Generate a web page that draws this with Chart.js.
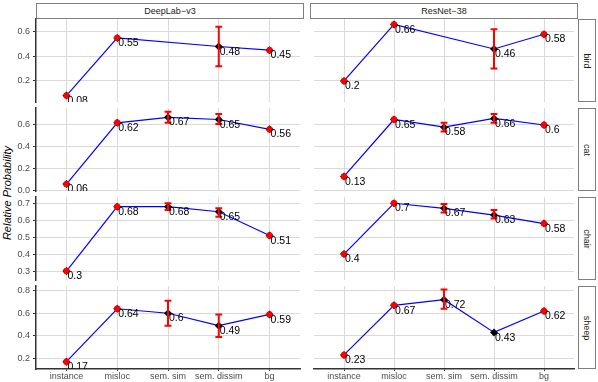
<!DOCTYPE html>
<html>
<head>
<meta charset="utf-8">
<script src="https://cdn.jsdelivr.net/npm/chart.js@4.4.1/dist/chart.umd.min.js"></script>
<style>
  body { margin: 0; width: 598px; height: 382px; position: relative; overflow: hidden; background: #fff;
         font-family: 'Liberation Sans', Arial, sans-serif; }
  canvas { position: absolute; }
  .strip { position: absolute; box-sizing: border-box; border: 1px solid #7f7f7f; background: #fff;
           color: #1a1a1a; font-size: 9px; display: flex; align-items: center; justify-content: center; }
  .strip span.v { transform: rotate(90deg); white-space: nowrap; }
  #ytitle { position: absolute; width: 200px; left: -93px; top: 187px; text-align: center; font-size: 11px;
            font-style: italic; color: #000; transform: rotate(-90deg); white-space: nowrap; }
</style>
</head>
<body>
<div id="ytitle">Relative Probability</div>
<script>
// categories / facets
const categories = ['instance', 'misloc', 'sem. sim', 'sem. dissim', 'bg'];
const models = ['DeepLab−v3', 'ResNet−38'];
const classes = ['bird', 'cat', 'chair', 'sheep'];

// mean values (null = no value)
const deeplabBird  = [0.08, 0.55, null, 0.48, 0.45];
const resnetBird   = [0.2, 0.66, null, 0.46, 0.58];
const deeplabCat   = [0.06, 0.62, 0.67, 0.65, 0.56];
const resnetCat    = [0.13, 0.65, 0.58, 0.66, 0.6];
const deeplabChair = [0.3, 0.68, 0.68, 0.65, 0.51];
const resnetChair  = [0.4, 0.7, 0.67, 0.63, 0.58];
const deeplabSheep = [0.17, 0.64, 0.6, 0.49, 0.59];
const resnetSheep  = [0.23, 0.67, 0.72, 0.43, 0.62];

// error bars, lower and upper ends
const deeplabBirdLo  = [0.08, 0.55, null, 0.32, 0.45];
const deeplabBirdHi  = [0.08, 0.55, null, 0.64, 0.45];
const resnetBirdLo   = [0.2, 0.66, null, 0.30, 0.58];
const resnetBirdHi   = [0.2, 0.66, null, 0.62, 0.58];
const deeplabCatLo   = [0.06, 0.62, 0.62, 0.61, 0.56];
const deeplabCatHi   = [0.06, 0.62, 0.72, 0.70, 0.56];
const resnetCatLo    = [0.13, 0.65, 0.54, 0.62, 0.6];
const resnetCatHi    = [0.13, 0.65, 0.62, 0.70, 0.6];
const deeplabChairLo = [0.3, 0.68, 0.66, 0.62, 0.51];
const deeplabChairHi = [0.3, 0.68, 0.70, 0.67, 0.51];
const resnetChairLo  = [0.4, 0.7, 0.645, 0.61, 0.58];
const resnetChairHi  = [0.4, 0.7, 0.695, 0.66, 0.58];
const deeplabSheepLo = [0.17, 0.64, 0.49, 0.39, 0.59];
const deeplabSheepHi = [0.17, 0.64, 0.71, 0.59, 0.59];
const resnetSheepLo  = [0.23, 0.67, 0.64, null, 0.62];
const resnetSheepHi  = [0.23, 0.67, 0.81, null, 0.62];

// y axis per row
const rowTicks = [[0.2, 0.4, 0.6], [0.0, 0.2, 0.4, 0.6], [0.3, 0.4, 0.5, 0.6, 0.7], [0.2, 0.4, 0.6, 0.8]];
const rowMin = [0.028, -0.003, 0.247, 0.105];
const rowMax = [0.704, 0.755, 0.737, 0.842];

const means = [[deeplabBird, deeplabCat, deeplabChair, deeplabSheep], [resnetBird, resnetCat, resnetChair, resnetSheep]];
const lows  = [[deeplabBirdLo, deeplabCatLo, deeplabChairLo, deeplabSheepLo], [resnetBirdLo, resnetCatLo, resnetChairLo, resnetSheepLo]];
const highs = [[deeplabBirdHi, deeplabCatHi, deeplabChairHi, deeplabSheepHi], [resnetBirdHi, resnetCatHi, resnetChairHi, resnetSheepHi]];

// layout
const FONT = "'Liberation Sans', Arial, sans-serif";
const colLeft = [0, 310], colWidth = [304, 268], yAxisW = [36, 0];
const rowTop = [19, 108, 197, 286], panelH = 83;

// strips
function addStrip(left, top, w, h, text, vertical) {
  const d = document.createElement('div');
  d.className = 'strip';
  Object.assign(d.style, { left: left + 'px', top: top + 'px', width: w + 'px', height: h + 'px' });
  d.innerHTML = vertical ? '<span class="v">' + text + '</span>' : text;
  document.body.appendChild(d);
}
models.forEach((m, c) => addStrip(colLeft[c] + yAxisW[c], 3, colWidth[c] - yAxisW[c], 16, m, false));
classes.forEach((k, r) => addStrip(578, rowTop[r], 18, panelH, k, true));

// error bars + value labels
function overlay(mean, lo, hi) {
  return {
    id: 'overlay',
    afterDatasetsDraw(chart) {
      const { ctx, chartArea: a, scales: { x, y } } = chart;
      ctx.save();
      ctx.beginPath();
      ctx.rect(a.left, a.top, a.right - a.left, a.bottom - a.top);
      ctx.clip();
      ctx.strokeStyle = '#ff0000';
      ctx.fillStyle = '#ff0000';
      mean.forEach((v, i) => {
        if (lo[i] == null) return;
        const px = x.getPixelForValue(i);
        const p1 = y.getPixelForValue(lo[i]), p2 = y.getPixelForValue(hi[i]);
        if (lo[i] === hi[i]) {
          ctx.beginPath();
          ctx.arc(px, p1, 3.2, 0, 2 * Math.PI);
          ctx.fill();
          return;
        }
        ctx.lineWidth = 2;
        ctx.beginPath();
        ctx.moveTo(px, p1); ctx.lineTo(px, p2);
        ctx.moveTo(px - 3.4, p1); ctx.lineTo(px + 3.4, p1);
        ctx.moveTo(px - 3.4, p2); ctx.lineTo(px + 3.4, p2);
        ctx.stroke();
      });
      ctx.fillStyle = '#000';
      ctx.font = '10.5px ' + FONT;
      ctx.textAlign = 'left';
      ctx.textBaseline = 'top';
      mean.forEach((v, i) => {
        if (v == null) return;
        ctx.fillText(String(v), x.getPixelForValue(i) + 1, y.getPixelForValue(v));
      });
      ctx.restore();
    }
  };
}

function makePanel(r, c) {
  const bottom = r === 3;
  const padT = 8, padB = bottom ? 0 : 8, xH = bottom ? 13 : 0;
  const canvas = document.createElement('canvas');
  canvas.width = colWidth[c];
  canvas.height = padT + panelH + padB + xH;
  canvas.style.left = colLeft[c] + 'px';
  canvas.style.top = (rowTop[r] - padT) + 'px';
  document.body.appendChild(canvas);

  const mean = means[c][r];
  new Chart(canvas, {
    type: 'line',
    data: {
      datasets: [{
        data: mean.map((v, i) => ({ x: i, y: v })),
        borderColor: '#0000ff',
        borderWidth: 1.2,
        spanGaps: true,
        tension: 0,
        pointStyle: 'rectRot',
        pointRadius: 4,
        pointBackgroundColor: '#000',
        pointBorderWidth: 0
      }]
    },
    options: {
      responsive: false,
      animation: false,
      devicePixelRatio: 1,
      layout: { padding: { top: padT, bottom: padB, left: 0, right: 0 } },
      plugins: { legend: { display: false }, tooltip: { enabled: false } },
      scales: {
        x: {
          type: 'linear', min: -0.6, max: 4.6,
          afterBuildTicks: s => { s.ticks = categories.map((_, i) => ({ value: i })); },
          afterFit: s => { s.height = xH; s.paddingLeft = 0; s.paddingRight = 0; },
          ticks: { display: bottom, callback: v => categories[v], font: { size: 9, family: FONT },
                   color: '#4d4d4d', padding: 0, maxRotation: 0, autoSkip: false },
          grid: { color: '#dadada', lineWidth: 1, drawTicks: bottom, tickLength: 2, tickColor: '#333' },
          border: { display: bottom, color: '#333', width: 1.5 }
        },
        y: {
          type: 'linear', min: rowMin[r], max: rowMax[r],
          afterBuildTicks: s => { s.ticks = rowTicks[r].map(v => ({ value: v })); },
          afterFit: s => { s.width = yAxisW[c]; s.paddingTop = 0; s.paddingBottom = 0; },
          ticks: { display: c === 0, callback: v => v.toFixed(1), font: { size: 9, family: FONT },
                   color: '#4d4d4d', padding: 3 },
          grid: { color: '#dadada', lineWidth: 1, drawTicks: c === 0, tickLength: 3, tickColor: '#333' },
          border: { display: c === 0, color: '#333', width: 1.5 }
        }
      }
    },
    plugins: [overlay(mean, lows[c][r], highs[c][r])]
  });
}

for (let r = 0; r < 4; r++) for (let c = 0; c < 2; c++) makePanel(r, c);
</script>
</body>
</html>
